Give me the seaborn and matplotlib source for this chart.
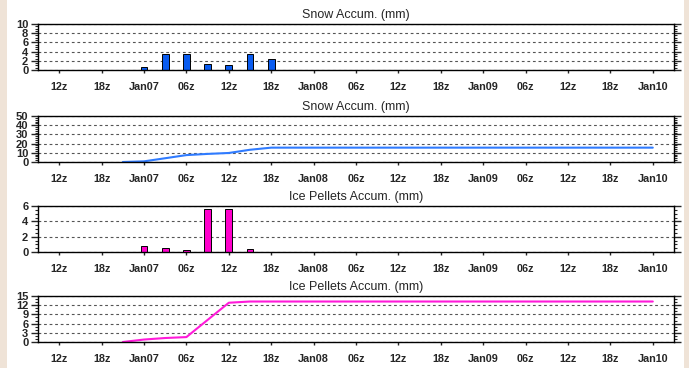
import numpy as np
import matplotlib
matplotlib.use("Agg")
import matplotlib.pyplot as plt
import seaborn as sns
from matplotlib.patches import Rectangle
from matplotlib.ticker import MultipleLocator

# Hours relative to Jan07 00z, 3-hourly from Jan06 21z to Jan10 00z
hours = [-3, 0, 3, 6, 9, 12, 15, 18, 21, 24, 27, 30, 33, 36, 39, 42, 45, 48,
         51, 54, 57, 60, 63, 66, 69, 72]

# 3-hour snow amounts (mm)
snow_3h = [0, 0.7, 3.4, 3.4, 1.3, 1.0, 3.5, 2.3, 0, 0, 0, 0, 0, 0, 0, 0, 0, 0,
           0, 0, 0, 0, 0, 0, 0, 0]
# accumulated snow (mm)
snow_total = [0, 0.7, 4.1, 7.5, 8.8, 9.8, 13.3, 15.6, 15.6, 15.6, 15.6, 15.6,
              15.6, 15.6, 15.6, 15.6, 15.6, 15.6, 15.6, 15.6, 15.6, 15.6, 15.6,
              15.6, 15.6, 15.6]

# 3-hour ice pellets amounts (mm)
ice_3h = [0, 0.8, 0.5, 0.3, 5.6, 5.6, 0.4, 0, 0, 0, 0, 0, 0, 0, 0, 0, 0, 0,
          0, 0, 0, 0, 0, 0, 0, 0]
# accumulated ice pellets (mm)
ice_total = [0, 0.8, 1.3, 1.6, 7.2, 12.8, 13.2, 13.2, 13.2, 13.2, 13.2, 13.2,
             13.2, 13.2, 13.2, 13.2, 13.2, 13.2, 13.2, 13.2, 13.2, 13.2, 13.2,
             13.2, 13.2, 13.2]

xtick_hours = [-12, -6, 0, 6, 12, 18, 24, 30, 36, 42, 48, 54, 60, 66, 72]
xtick_labels = ["12z", "18z", "Jan07", "06z", "12z", "18z", "Jan08", "06z",
                "12z", "18z", "Jan09", "06z", "12z", "18z", "Jan10"]

sns.set_style("white")
plt.rcParams["font.family"] = ["Liberation Sans", "DejaVu Sans"]

fig = plt.figure(figsize=(6.89, 3.68), dpi=100)
fig.patch.set_facecolor("#efe3d7")
fig.patches.append(Rectangle((7 / 689, 0), 677 / 689, 1, transform=fig.transFigure,
                             facecolor="white", edgecolor="none", zorder=-1))

W, H = 689, 368
left, right = 38, 674
tops = [24, 116, 206, 296]
ax_h = 46


def make_ax(top):
    return fig.add_axes([left / W, 1 - (top + ax_h) / H, (right - left) / W, ax_h / H])


def style_ax(ax, title, ymax, major, minor):
    ax.set_xlim(-15, 75)
    ax.set_ylim(0, ymax)
    ax.set_xticks(xtick_hours)
    ax.set_xticklabels(xtick_labels, fontsize=7.8, fontweight="bold")
    ax.yaxis.set_major_locator(MultipleLocator(major))
    ax.yaxis.set_minor_locator(MultipleLocator(minor))
    ax.tick_params(axis="y", which="major", labelsize=8, direction="out",
                   length=5, width=1, left=True, right=True, pad=2)
    ax.tick_params(axis="y", which="minor", direction="out", length=2.5,
                   width=0.8, left=True, right=True)
    for lab in ax.get_yticklabels():
        lab.set_fontweight("bold")
    ax.tick_params(axis="x", direction="out", length=2.5, width=1, pad=6,
                   bottom=True)
    ax.grid(axis="y", color="#555555", linestyle=(0, (2.5, 2.5)), linewidth=0.8)
    ax.grid(axis="x", visible=False)
    ax.set_axisbelow(True)
    for s in ax.spines.values():
        s.set_visible(True)
        s.set_color("black")
        s.set_linewidth(1.0)
    ax.set_title(title, fontsize=9, pad=4)
    ax.set_xlabel("")
    ax.set_ylabel("")


ax1 = make_ax(tops[0])
sns.barplot(x=hours, y=snow_3h, native_scale=True, width=0.32, color="#0a5cf0",
            edgecolor="black", linewidth=0.7, saturation=1, ax=ax1)
style_ax(ax1, "Snow Accum. (mm)", 10, 2, 0.5)

ax2 = make_ax(tops[1])
sns.lineplot(x=hours, y=snow_total, color="#2f7bff", linewidth=1.5, ax=ax2)
style_ax(ax2, "Snow Accum. (mm)", 50, 10, 2)

ax3 = make_ax(tops[2])
sns.barplot(x=hours, y=ice_3h, native_scale=True, width=0.32, color="#ff00cc",
            edgecolor="black", linewidth=0.7, saturation=1, ax=ax3)
style_ax(ax3, "Ice Pellets Accum. (mm)", 6, 2, 0.5)

ax4 = make_ax(tops[3])
sns.lineplot(x=hours, y=ice_total, color="#ff1ad9", linewidth=1.5, ax=ax4)
style_ax(ax4, "Ice Pellets Accum. (mm)", 15, 3, 1)

fig.savefig("out.png", dpi=100, facecolor=fig.get_facecolor())
